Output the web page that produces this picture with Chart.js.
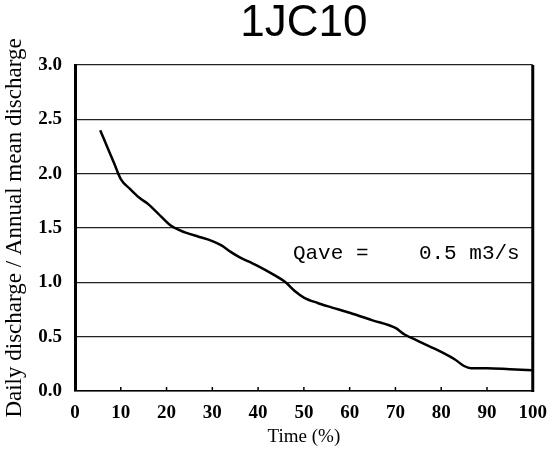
<!DOCTYPE html>
<html>
<head>
<meta charset="utf-8">
<script src="https://cdn.jsdelivr.net/npm/chart.js@4.4.1/dist/chart.umd.min.js"></script>
<style>
  html, body { margin: 0; padding: 0; background: #fff; }
  #wrap { width: 558px; height: 449px; position: relative; }
</style>
</head>
<body>
<div id="wrap"><canvas id="fdc"></canvas></div>
<script>
  // Flow duration curve values
  const timePct = [5.5, 7, 8.5, 10, 12, 14, 16, 18, 21, 24, 27, 30, 32, 34, 36, 38, 40, 43, 46, 48, 50, 53, 56, 60, 65, 70, 72, 75, 78, 80, 83, 85, 86.5, 90, 95, 100];
  const ratio = [2.40, 2.25, 2.10, 1.95, 1.86, 1.78, 1.72, 1.64, 1.52, 1.46, 1.42, 1.38, 1.34, 1.28, 1.23, 1.19, 1.15, 1.08, 1.00, 0.92, 0.86, 0.81, 0.77, 0.72, 0.65, 0.58, 0.52, 0.46, 0.40, 0.36, 0.29, 0.23, 0.21, 0.21, 0.20, 0.19];
  const yTicks = [0.0, 0.5, 1.0, 1.5, 2.0, 2.5, 3.0];
  const xTicks = [0, 10, 20, 30, 40, 50, 60, 70, 80, 90, 100];
  const noteText = 'Qave =    0.5 m3/s';
  const notePos = [47.6, 1.27];

  const points = timePct.map((t, i) => ({ x: t, y: ratio[i] }));

  // frame with thick side lines, inward x ticks and the Qave note
  const framePlugin = {
    id: 'frame',
    afterDraw(chart) {
      const { ctx, chartArea: a, scales } = chart;
      ctx.save();
      ctx.strokeStyle = '#000';
      ctx.lineWidth = 3;
      ctx.beginPath();
      ctx.moveTo(a.right, a.top); ctx.lineTo(a.right, a.bottom + 1);
      ctx.stroke();
      ctx.lineWidth = 1.5;
      xTicks.forEach(v => {
        const px = scales.x.getPixelForValue(v);
        ctx.beginPath();
        ctx.moveTo(px, a.bottom); ctx.lineTo(px, a.bottom - 4);
        ctx.stroke();
      });
      ctx.fillStyle = '#000';
      ctx.font = '21px "Liberation Mono", monospace';
      ctx.textAlign = 'left';
      ctx.textBaseline = 'middle';
      ctx.fillText(noteText, scales.x.getPixelForValue(notePos[0]), scales.y.getPixelForValue(notePos[1]));
      ctx.restore();
    }
  };

  new Chart(document.getElementById('fdc'), {
    type: 'line',
    data: {
      datasets: [{
        data: points,
        borderColor: '#000',
        borderWidth: 2.5,
        pointRadius: 0,
        cubicInterpolationMode: 'monotone',
        fill: false
      }]
    },
    options: {
      responsive: true,
      maintainAspectRatio: false,
      animation: false,
      layout: { padding: { left: 0, right: 17, top: 0, bottom: 0 } },
      plugins: {
        legend: { display: false },
        tooltip: { enabled: false },
        title: {
          display: true,
          text: '1JC10',
          fullSize: false,
          color: '#000',
          font: { family: '"Liberation Sans", Arial, sans-serif', size: 44, weight: 'normal', lineHeight: 1 },
          padding: { top: 2, bottom: 19 }
        }
      },
      scales: {
        x: {
          type: 'linear',
          min: 0,
          max: 100,
          afterFit(scale) { scale.height = 58; },
          afterBuildTicks(scale) { scale.ticks = xTicks.map(v => ({ value: v })); },
          grid: { display: false, drawTicks: false },
          border: { display: true, color: '#000', width: 1.5 },
          ticks: {
            color: '#000',
            padding: 11,
            maxRotation: 0,
            font: { family: '"Liberation Serif", "Times New Roman", serif', size: 19, weight: 'bold' }
          },
          title: {
            display: true,
            text: 'Time (%)',
            color: '#000',
            padding: { top: 0, bottom: 1 },
            font: { family: '"Liberation Serif", "Times New Roman", serif', size: 19 }
          }
        },
        y: {
          min: 0,
          max: 3,
          afterFit(scale) { scale.width = 75; },
          afterBuildTicks(scale) { scale.ticks = yTicks.map(v => ({ value: v })); },
          grid: { color: '#222', lineWidth: 1.2, drawTicks: false },
          border: { display: true, color: '#000', width: 3 },
          ticks: {
            color: '#000',
            padding: 13,
            callback: v => v.toFixed(1),
            font: { family: '"Liberation Serif", "Times New Roman", serif', size: 19, weight: 'bold' }
          },
          title: {
            display: true,
            text: 'Daily discharge / Annual mean discharge',
            color: '#000',
            padding: { top: 1, bottom: 0 },
            font: { family: '"Liberation Serif", "Times New Roman", serif', size: 23 }
          }
        }
      }
    },
    plugins: [framePlugin]
  });
</script>
</body>
</html>
